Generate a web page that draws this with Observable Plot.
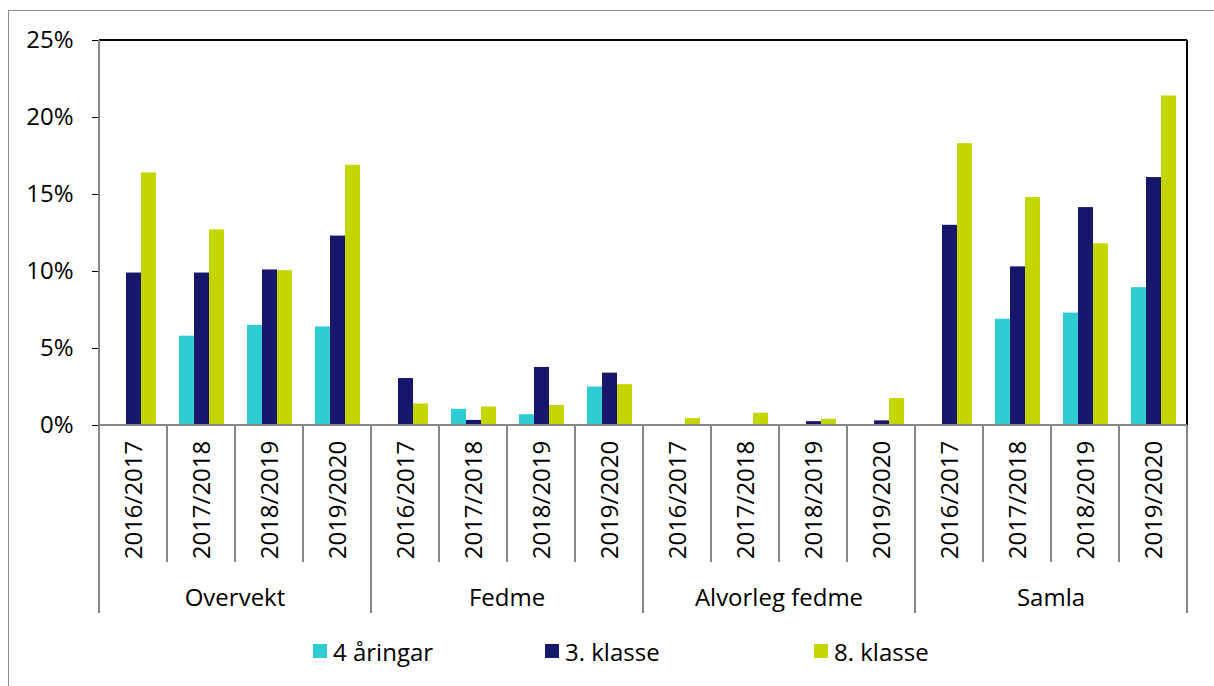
<!DOCTYPE html>
<html>
<head>
<meta charset="utf-8">
<script src="https://cdn.jsdelivr.net/npm/d3@7"></script>
<script src="https://cdn.jsdelivr.net/npm/@observablehq/plot@0.6"></script>
<style>
  html, body { margin: 0; padding: 0; background: #fff; }
  body { width: 1214px; height: 686px; overflow: hidden; position: relative; font-family: "Open Sans", sans-serif; }
  #outer { position: absolute; left: 8px; top: 10px; width: 1230px; height: 700px; border: 1.5px solid #8c8c8c; box-sizing: border-box; }
  #chart { position: absolute; left: 0; top: 0; }
  #legend { position: absolute; left: 0; top: 636px; width: 1214px; height: 30px; }
  .item { position: absolute; top: 0; height: 30px; display: flex; align-items: center; font-size: 24px; color: #000; }
  .sw { width: 14px; height: 14px; margin-right: 6px; }
  [aria-label="y-axis tick"] { stroke: #868686; }
  [aria-label="y-axis"] line { stroke: #868686; }
</style>
</head>
<body>
<div id="outer"></div>
<div id="chart"></div>
<div id="legend"></div>
<script>
// ---- Data ----
const groups = ["Overvekt", "Fedme", "Alvorleg fedme", "Samla"];
const years = ["2016/2017", "2017/2018", "2018/2019", "2019/2020"];
const series = ["4 åringar", "3. klasse", "8. klasse"];
const colors = ["#2ECCD3", "#16166B", "#C4D600"];
const yTicks = [0, 5, 10, 15, 20, 25];
// values in %, group-major order (4 years per group)
const fourYearOlds = [null, 5.8, 6.5, 6.4,  null, 1.05, 0.7, 2.5,  null, null, null, null,  null, 6.9, 7.3, 8.95];
const thirdGrade   = [9.9, 9.9, 10.1, 12.3,  3.05, 0.33, 3.77, 3.4,  null, null, 0.25, 0.3,  13.0, 10.3, 14.15, 16.1];
const eighthGrade  = [16.4, 12.7, 10.05, 16.9,  1.4, 1.2, 1.3, 2.65,  0.45, 0.8, 0.4, 1.75,  18.3, 14.8, 11.8, 21.4];
const seriesValues = [fourYearOlds, thirdGrade, eighthGrade];

// ---- Build table ----
const keys = groups.flatMap(g => years.map(y => g + "|" + y));
const rows = [];
groups.forEach((g, gi) => years.forEach((yr, yi) => series.forEach((s, si) => {
  const v = seriesValues[si][gi * 4 + yi];
  if (v != null) rows.push({key: g + "|" + yr, group: g, year: yr, series: s, value: v});
})));

const chart = Plot.plot({
  width: 1214,
  height: 625,
  marginTop: 40,
  marginBottom: 200,
  marginLeft: 97,
  marginRight: 25,
  style: {fontFamily: "'Open Sans', sans-serif", fontSize: "24px", color: "#000", background: "transparent", overflow: "visible"},
  fx: {domain: keys, padding: 0, axis: null},
  x: {domain: series, paddingInner: 0, paddingOuter: 0.75, axis: null},
  y: {domain: [0, 25], ticks: yTicks, tickFormat: d => d + "%", tickSize: 7, tickPadding: 19, label: null},
  color: {domain: series, range: colors},
  marks: [
    Plot.barY(rows, {fx: "key", x: "series", y: "value", fill: "series"})
  ]
});
document.getElementById("chart").appendChild(chart);

// ---- Category axis & frame drawn with Plot's scales ----
const fx = chart.scale("fx");
const ys = chart.scale("y");
const bw = fx.bandwidth != null ? fx.bandwidth : (fx.range[1] - fx.range[0]) / keys.length;
const y0 = ys.apply(0), yTop = ys.apply(25);
const xLeft = fx.apply(keys[0]);
const xRight = fx.apply(keys[keys.length - 1]) + bw;
const svg = d3.select(chart);
const g = svg.append("g");

// top & right border (black)
g.append("line").attr("x1", xLeft).attr("x2", xRight).attr("y1", yTop).attr("y2", yTop)
  .attr("stroke", "#000").attr("stroke-width", 2);
g.append("line").attr("x1", xRight).attr("x2", xRight).attr("y1", yTop).attr("y2", y0)
  .attr("stroke", "#000").attr("stroke-width", 2);
// left axis line & bottom axis line (gray)
g.append("line").attr("x1", xLeft).attr("x2", xLeft).attr("y1", yTop).attr("y2", y0)
  .attr("stroke", "#868686").attr("stroke-width", 2);
g.append("line").attr("x1", xLeft).attr("x2", xRight).attr("y1", y0).attr("y2", y0)
  .attr("stroke", "#868686").attr("stroke-width", 2);

// separators
const edges = keys.map(k => fx.apply(k)).concat([xRight]);
edges.forEach((x, i) => {
  const isGroup = i % years.length === 0;
  g.append("line").attr("x1", x).attr("x2", x).attr("y1", y0)
    .attr("y2", y0 + (isGroup ? 188 : 137))
    .attr("stroke", "#868686").attr("stroke-width", 2);
});
// year labels
keys.forEach(k => {
  const cx = fx.apply(k) + bw / 2;
  g.append("text").attr("transform", `translate(${cx},${y0 + 75}) rotate(-90)`)
    .attr("text-anchor", "middle").attr("dy", "0.36em")
    .attr("fill", "#000").attr("font-size", 24)
    .text(k.split("|")[1]);
});
// group labels
groups.forEach((grp, gi) => {
  const a = fx.apply(keys[gi * years.length]);
  const b = fx.apply(keys[gi * years.length + years.length - 1]) + bw;
  g.append("text").attr("x", (a + b) / 2).attr("y", y0 + 181)
    .attr("text-anchor", "middle").attr("fill", "#000").attr("font-size", 24)
    .text(grp);
});

// ---- Legend ----
const legendLeft = [313, 545, 814];
const legend = document.getElementById("legend");
series.forEach((s, i) => {
  const item = document.createElement("div");
  item.className = "item";
  item.style.left = legendLeft[i] + "px";
  const sw = document.createElement("span");
  sw.className = "sw";
  sw.style.background = colors[i];
  const t = document.createElement("span");
  t.textContent = s;
  item.appendChild(sw);
  item.appendChild(t);
  legend.appendChild(item);
});
</script>
</body>
</html>
